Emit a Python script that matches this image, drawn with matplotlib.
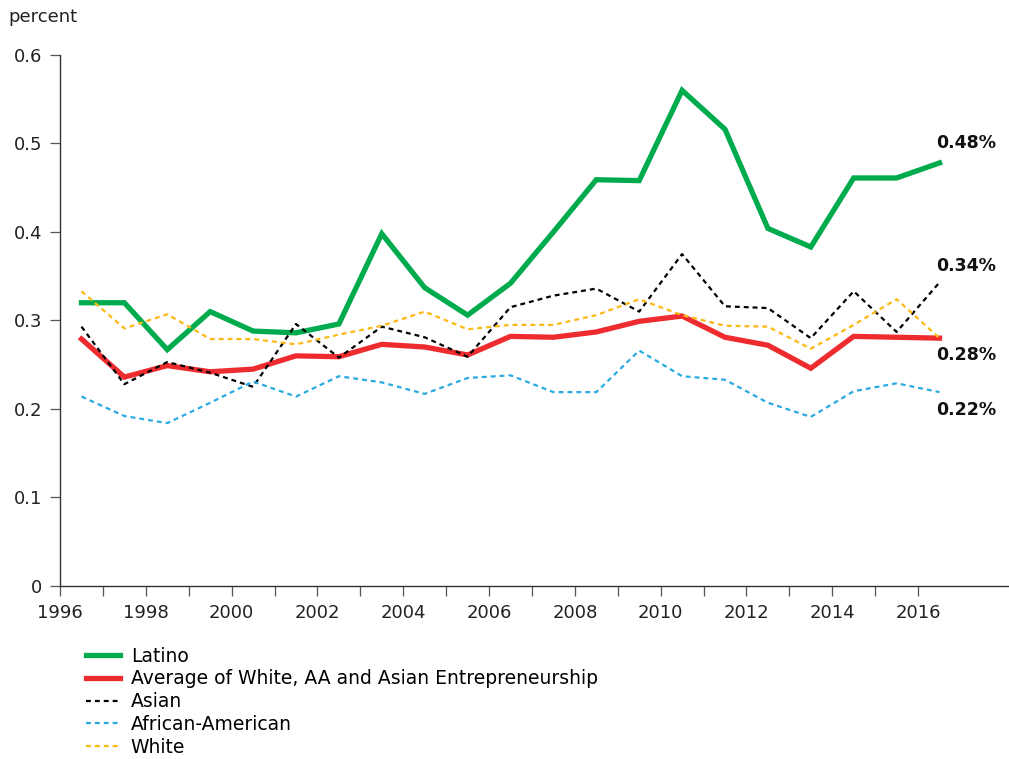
import numpy as np
import matplotlib.pyplot as plt
from matplotlib.ticker import FixedLocator

plt.rcParams['font.family'] = ['DejaVu Sans']

years = np.arange(1996, 2017) + 0.5

latino = [0.320, 0.320, 0.267, 0.310, 0.288, 0.286, 0.296, 0.398, 0.337, 0.306, 0.342,
          0.400, 0.459, 0.458, 0.560, 0.516, 0.404, 0.383, 0.461, 0.461, 0.478]
average = [0.279, 0.236, 0.249, 0.242, 0.245, 0.260, 0.259, 0.273, 0.270, 0.261, 0.282,
           0.281, 0.287, 0.299, 0.305, 0.281, 0.272, 0.246, 0.282, 0.281, 0.280]
asian = [0.293, 0.228, 0.253, 0.241, 0.225, 0.296, 0.258, 0.293, 0.281, 0.259, 0.315,
         0.328, 0.336, 0.310, 0.375, 0.316, 0.314, 0.280, 0.333, 0.287, 0.343]
african_american = [0.214, 0.192, 0.184, 0.207, 0.231, 0.214, 0.237, 0.230, 0.217, 0.235, 0.238,
                    0.219, 0.219, 0.266, 0.237, 0.233, 0.207, 0.191, 0.220, 0.229, 0.219]
white = [0.333, 0.291, 0.307, 0.279, 0.279, 0.273, 0.284, 0.294, 0.310, 0.290, 0.295,
         0.295, 0.306, 0.324, 0.306, 0.294, 0.293, 0.268, 0.295, 0.324, 0.280]

end_labels = ['0.48%', '0.34%', '0.28%', '0.22%']
end_label_y = [0.500, 0.362, 0.261, 0.199]

fig = plt.figure(figsize=(10.09, 7.59), dpi=100)
ax = fig.add_axes([0.0595, 0.228, 0.9405, 0.6996])

dash = (0, (2.2, 1.8))
ax.plot(years, latino, color='#00AB4E', lw=3.8, label='Latino', zorder=2,
        solid_joinstyle='miter')
ax.plot(years, average, color='#EE2B2F', lw=3.8,
        label='Average of White, AA and Asian Entrepreneurship', zorder=2,
        solid_joinstyle='miter')
ax.plot(years, asian, color='black', lw=1.6, ls=dash, label='Asian', zorder=3)
ax.plot(years, african_american, color='#29AAE1', lw=1.6, ls=dash,
        label='African-American', zorder=3)
ax.plot(years, white, color='#FDB913', lw=1.6, ls=dash, label='White', zorder=3)

for txt, y in zip(end_labels, end_label_y):
    ax.text(2016.42, y, txt, fontsize=12.5, fontweight='semibold', ha='left',
            va='center', color='#111111')

ax.set_xlim(1996, 2018.12)
ax.set_ylim(0, 0.6)
ax.xaxis.set_major_locator(FixedLocator(np.arange(1996, 2017, 2)))
ax.xaxis.set_minor_locator(FixedLocator(np.arange(1997, 2016, 2)))
ax.set_yticks(np.arange(0, 0.61, 0.1))
ax.set_yticklabels(['0', '0.1', '0.2', '0.3', '0.4', '0.5', '0.6'])

for side in ['top', 'right']:
    ax.spines[side].set_visible(False)
for side in ['left', 'bottom']:
    ax.spines[side].set_color('#333333')
    ax.spines[side].set_linewidth(1.0)
ax.tick_params(axis='both', which='both', length=7, width=0.9, color='#555555',
               labelsize=13, labelcolor='#222222')
ax.tick_params(axis='y', pad=6)
ax.tick_params(axis='x', pad=6)

fig.text(0.008, 0.978, 'percent', fontsize=13, ha='left', va='center', color='#222222')

fig.legend(loc='upper left', bbox_to_anchor=(0.085, 0.148), frameon=False,
           fontsize=13.5, handlelength=1.85, handletextpad=0.55, labelspacing=0.2,
           borderpad=0, borderaxespad=0)

fig.savefig('out.png', dpi=100)
